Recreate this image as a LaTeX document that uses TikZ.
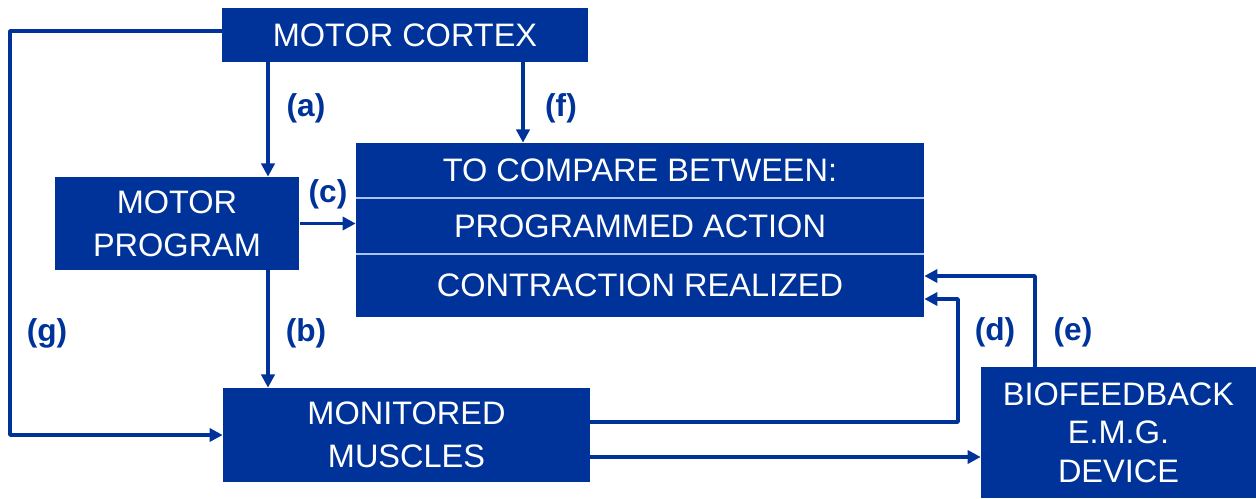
\documentclass[tikz,border=0pt]{standalone}
\usepackage{fontspec}
\setmainfont{Liberation Sans}
\usetikzlibrary{arrows.meta}
\definecolor{emgblue}{RGB}{0,51,153}
\definecolor{rowline}{RGB}{170,195,240}
\begin{document}
\begin{tikzpicture}[x=0.02cm, y=-0.02cm, line join=round,
  box/.style={fill=emgblue, text=white, align=center, inner sep=0pt, font=\fontsize{18.5}{24.4}\selectfont},
  lbl/.style={text=emgblue, font=\fontsize{18}{20}\selectfont\bfseries},
  arr/.style={draw=emgblue, line width=2pt, -{Triangle[length=7.5pt,width=7.5pt]}}]
 \useasboundingbox (0,0) rectangle (1256,498);
 % boxes
 \node[box, minimum width=7.32cm, minimum height=1.08cm] (cortex) at (405,35) {MOTOR CORTEX};
 \node[box, minimum width=4.9cm, minimum height=1.86cm] (program) at (177,223.5) {MOTOR\\PROGRAM};
 \node[box, minimum width=11.36cm, minimum height=1.1cm] (cmp1) at (640,170.5) {TO COMPARE BETWEEN:};
 \node[box, minimum width=11.36cm, minimum height=1.12cm] (cmp2) at (640,226) {PROGRAMMED ACTION};
 \node[box, minimum width=11.36cm, minimum height=1.26cm] (cmp3) at (640,285.5) {CONTRACTION REALIZED};
 \node[box, minimum width=7.34cm, minimum height=1.88cm] (muscles) at (406.5,435) {MONITORED\\MUSCLES};
 \node[box, minimum width=5.5cm, minimum height=2.62cm, font=\fontsize{18.5}{22}\selectfont] (bio) at (1118.5,432.5) {BIOFEEDBACK\\E.M.G.\\DEVICE};
 \draw[rowline, line width=1.1pt] (cmp1.south west) -- (cmp1.south east) (cmp2.south west) -- (cmp2.south east);
 % x positions of the vertical connectors
 \coordinate (ax) at (268,0);
 \coordinate (fx) at (523,0);
 \coordinate (gx) at (10,0);
 \coordinate (dx) at (958,0);
 \coordinate (ex) at (1035,0);
 \coordinate (dend) at ([yshift=-0.27cm]cmp3.east);
 % connectors
 \draw[arr] (cortex.south -| ax) -- (program.north -| ax);
 \draw[arr] (cortex.south -| fx) -- (cmp1.north -| fx);
 \draw[arr] (program.east) -- (program.east -| cmp2.west);
 \draw[arr] (program.south -| ax) -- (muscles.north -| ax);
 \draw[arr] ([yshift=0.08cm]cortex.west) -| (gx |- muscles.west) -- (muscles.west);
 \draw[arr] ([yshift=0.26cm]muscles.east) -| (dx |- dend) -- (dend);
 \draw[arr] (bio.north -| ex) |- ([yshift=0.19cm]cmp3.east);
 \draw[arr] ([yshift=-0.44cm]muscles.east) -- ([yshift=-0.44cm]muscles.east -| bio.west);
 % labels
 \node[lbl] (la) at (306,108) {(a)};
 \node[lbl] (lf) at (561,108) {(f)};
 \node[lbl] (lc) at (328,194) {(c)};
 \node[lbl] (lb) at (306,333) {(b)};
 \node[lbl] (lg) at (47,333) {(g)};
 \node[lbl] (ld) at (995,332) {(d)};
 \node[lbl] (le) at (1073,332) {(e)};
\end{tikzpicture}
\end{document}
